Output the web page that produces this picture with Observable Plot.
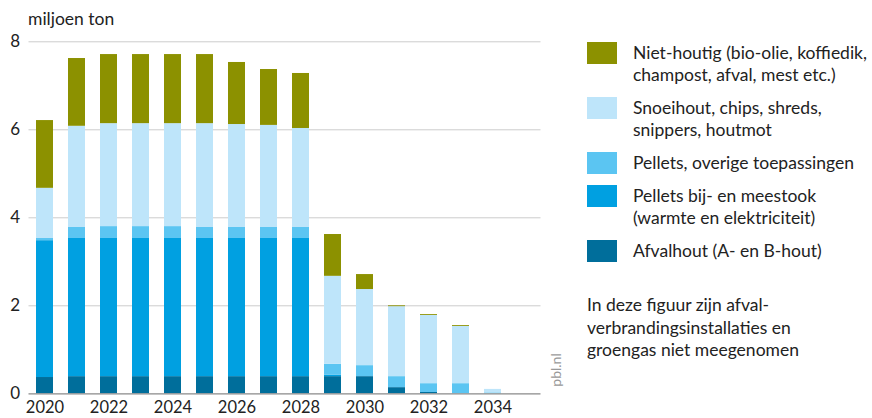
<!DOCTYPE html>
<html>
<head>
<meta charset="utf-8">
<script src="https://cdn.jsdelivr.net/npm/d3@7"></script>
<script src="https://cdn.jsdelivr.net/npm/@observablehq/plot@0.6"></script>
<style>
  body { margin: 0; background: #fff; font-family: Lato, "Noto Sans", sans-serif; color: #222; }
  #wrap { position: relative; width: 872px; height: 418px; overflow: hidden; }
  #unit { position: absolute; left: 28px; top: 8px; font-size: 17.5px; line-height: 22px; }
  #legend { position: absolute; left: 587px; top: 42px; font-size: 17.5px; line-height: 22px; }
  .item { display: flex; align-items: flex-start; margin-bottom: 11px; }
  .sw { width: 30px; height: 22px; flex: none; margin-right: 16px; }
  #note { position: absolute; left: 587px; top: 294px; font-size: 17.5px; line-height: 22.5px; }
  #pbl { position: absolute; left: 555px; top: 370px; font-size: 14px; color: #999;
         transform: translate(-50%, -50%) rotate(-90deg); white-space: nowrap; }
</style>
</head>
<body>
<div id="wrap">
  <div id="chart"></div>
  <div id="unit">miljoen ton</div>
  <div id="legend"></div>
  <div id="note">In deze figuur zijn afval-<br>verbrandingsinstallaties en<br>groengas niet meegenomen</div>
  <div id="pbl">pbl.nl</div>
</div>
<script>
const years = [2020, 2021, 2022, 2023, 2024, 2025, 2026, 2027, 2028, 2029, 2030, 2031, 2032, 2033, 2034, 2035];
const afvalhout = [0.37, 0.39, 0.39, 0.39, 0.39, 0.39, 0.39, 0.39, 0.39, 0.39, 0.39, 0.14, 0.03, 0, 0, 0];
const pelletsBij = [3.11, 3.14, 3.14, 3.14, 3.14, 3.14, 3.14, 3.14, 3.14, 0.03, 0, 0, 0, 0, 0, 0];
const pelletsOverig = [0.05, 0.25, 0.27, 0.27, 0.27, 0.25, 0.25, 0.25, 0.25, 0.25, 0.25, 0.25, 0.20, 0.23, 0.02, 0];
const snoeihout = [1.14, 2.30, 2.34, 2.34, 2.34, 2.36, 2.34, 2.32, 2.25, 2.00, 1.73, 1.59, 1.55, 1.30, 0.08, 0];
const nietHoutig = [1.54, 1.54, 1.57, 1.57, 1.57, 1.57, 1.41, 1.27, 1.25, 0.95, 0.34, 0.02, 0.02, 0.02, 0, 0];
const yTicks = [0, 2, 4, 6, 8];
const xTickLabels = [2020, 2022, 2024, 2026, 2028, 2030, 2032, 2034];

const seriesNames = [
  "Afvalhout (A- en B-hout)",
  "Pellets bij- en meestook (warmte en elektriciteit)",
  "Pellets, overige toepassingen",
  "Snoeihout, chips, shreds, snippers, houtmot",
  "Niet-houtig (bio-olie, koffiedik, champost, afval, mest etc.)"
];
const seriesValues = [afvalhout, pelletsBij, pelletsOverig, snoeihout, nietHoutig];
const colors = ["#006e9b", "#00a0e1", "#5bc5f2", "#bee5fa", "#8c9100"];

const data = [];
seriesNames.forEach((s, i) => {
  years.forEach((y, j) => data.push({ year: y, series: s, value: seriesValues[i][j] }));
});

const chart = Plot.plot({
  width: 872,
  height: 418,
  marginLeft: 28.5,
  marginRight: 331.5,
  marginTop: 41.3,
  marginBottom: 24.7,
  style: { fontFamily: "Lato, 'Noto Sans', sans-serif", fontSize: "16px", color: "#222", background: "#fff" },
  x: { type: "band", domain: years, paddingInner: 0.47, paddingOuter: 0.235 },
  y: { domain: [0, 8] },
  color: { domain: seriesNames, range: colors },
  marks: [
    Plot.gridY(yTicks.filter(d => d > 0), { stroke: "#cccccc", strokeOpacity: 1, strokeWidth: 1 }),
    Plot.barY(data, { x: "year", y: "value", fill: "series", order: seriesNames }),
    Plot.ruleY([0], { stroke: "#8a8a8a", strokeWidth: 1.2 }),
    Plot.axisY(yTicks, { tickSize: 0, tickPadding: 9, label: null, fontSize: 17 }),
    Plot.axisX(xTickLabels, { tickSize: 0, tickPadding: 7, label: null, fontSize: 16.5, tickFormat: d => String(d) })
  ]
});
document.getElementById("chart").appendChild(chart);

const legendOrder = [4, 3, 2, 1, 0];
const legendLines = [
  "Afvalhout (A- en B-hout)",
  "Pellets bij- en meestook<br>(warmte en elektriciteit)",
  "Pellets, overige toepassingen",
  "Snoeihout, chips, shreds,<br>snippers, houtmot",
  "Niet-houtig (bio-olie, koffiedik,<br>champost, afval, mest etc.)"
];
const legend = document.getElementById("legend");
legendOrder.forEach(i => {
  const row = document.createElement("div");
  row.className = "item";
  row.innerHTML = `<div class="sw" style="background:${colors[i]}"></div><div>${legendLines[i]}</div>`;
  legend.appendChild(row);
});
</script>
</body>
</html>
